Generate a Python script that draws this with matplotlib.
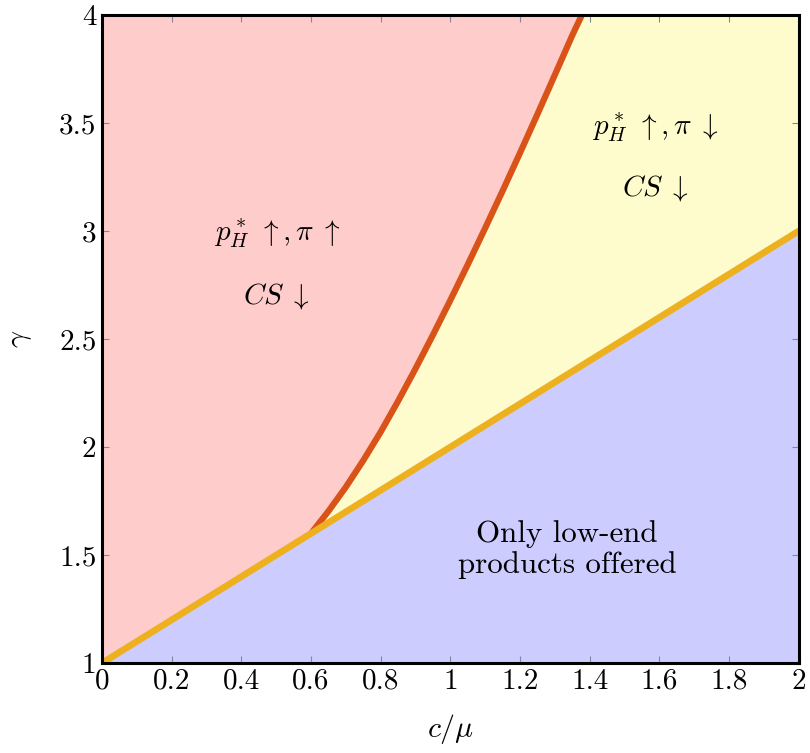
import matplotlib
matplotlib.use("Agg")
import matplotlib.pyplot as plt

plt.rcParams['font.family'] = ['cmr10', 'DejaVu Serif']
plt.rcParams['mathtext.fontset'] = 'cm'
plt.rcParams['axes.formatter.use_mathtext'] = True

# boundary line gamma = 1 + c/mu
line_x = [0.0, 2.0]
line_y = [1.0, 3.0]

# red boundary curve
curve_x = [0.600, 0.650, 0.700, 0.750, 0.800, 0.850, 0.900, 0.950, 1.000,
           1.050, 1.100, 1.150, 1.200, 1.250, 1.300, 1.350, 1.3775]
curve_y = [1.600, 1.703, 1.815, 1.938, 2.070, 2.213, 2.363, 2.519, 2.680,
           2.845, 3.014, 3.186, 3.362, 3.541, 3.723, 3.906, 4.000]

x_ticks = [0, 0.2, 0.4, 0.6, 0.8, 1, 1.2, 1.4, 1.6, 1.8, 2]
x_tick_labels = ['0', '0.2', '0.4', '0.6', '0.8', '1', '1.2', '1.4', '1.6', '1.8', '2']
y_ticks = [1, 1.5, 2, 2.5, 3, 3.5, 4]
y_tick_labels = ['1', '1.5', '2', '2.5', '3', '3.5', '4']

xmin, xmax, ymin, ymax = 0, 2, 1, 4

fig = plt.figure(figsize=(8.10, 7.53), dpi=100)
ax = fig.add_axes([0.126, 0.1195, 0.860, 0.8605])

pink = '#FFCCCC'
yellow = '#FEFCCC'
blue = '#CCCCFF'
red_line = '#D95319'
yel_line = '#EDB120'

# blue region: below the line
ax.fill([line_x[0], line_x[1], line_x[1]], [line_y[0], ymin, line_y[1]], color=blue, lw=0, zorder=1)

# pink region: left of curve, above line
pink_x = [xmin, curve_x[0]] + curve_x + [xmin]
pink_y = [line_y[0], curve_y[0]] + curve_y + [ymax]
ax.fill(pink_x, pink_y, color=pink, lw=0, zorder=1)

# yellow region: between curve and line
yel_x = [curve_x[0], line_x[1], xmax, curve_x[-1]] + curve_x[::-1]
yel_y = [curve_y[0], line_y[1], ymax, ymax] + curve_y[::-1]
ax.fill(yel_x, yel_y, color=yellow, lw=0, zorder=1)

ax.plot(curve_x, curve_y, color=red_line, lw=4.5, zorder=3, solid_capstyle='butt')
ax.plot(line_x, line_y, color=yel_line, lw=4.8, zorder=4, solid_capstyle='round')

ax.set_xlim(xmin, xmax)
ax.set_ylim(ymin, ymax)
ax.set_xticks(x_ticks)
ax.set_xticklabels(x_tick_labels)
ax.set_yticks(y_ticks)
ax.set_yticklabels(y_tick_labels)
ax.tick_params(direction='in', length=5, width=0.8, color='#8088a0',
               labelsize=21, top=True, right=True, pad=4)
for s in ax.spines.values():
    s.set_linewidth(2.2)
    s.set_zorder(6)

ax.set_xlabel(r'$c/\mu$', fontsize=21.5, labelpad=12)
ax.set_ylabel(r'$\gamma$', fontsize=21.5, labelpad=18)

fs = 21
ax.text(0.504, 2.99, r'$p_H^*\;\uparrow,\pi\;\uparrow$', fontsize=fs, ha='center', va='center', zorder=5)
ax.text(0.50, 2.70, r'$CS\;\downarrow$', fontsize=fs, ha='center', va='center', zorder=5)
ax.text(1.588, 3.48, r'$p_H^*\;\uparrow,\pi\;\downarrow$', fontsize=fs, ha='center', va='center', zorder=5)
ax.text(1.588, 3.20, r'$CS\;\downarrow$', fontsize=fs, ha='center', va='center', zorder=5)
ax.text(1.335, 1.595, 'Only low-end', fontsize=22.3, ha='center', va='center', zorder=5)
ax.text(1.335, 1.455, 'products offered', fontsize=22.3, ha='center', va='center', zorder=5)

fig.savefig('out.png', dpi=100)
